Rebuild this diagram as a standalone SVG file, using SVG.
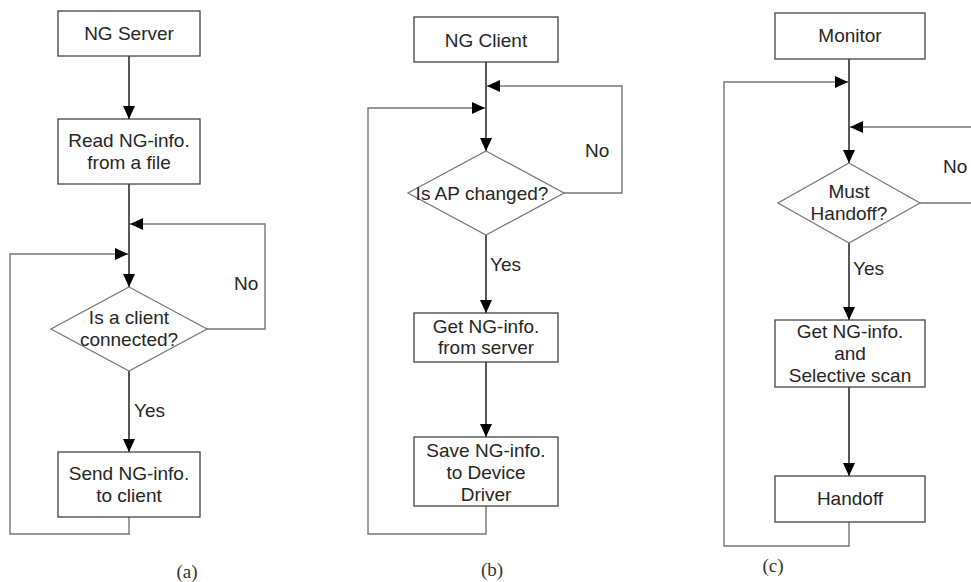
<svg xmlns="http://www.w3.org/2000/svg" width="971" height="582" viewBox="0 0 971 582">
  <style>
    .box { fill: #ffffff; stroke: #444444; stroke-width: 1.3; }
    .dia { fill: #ffffff; stroke: #7a7a7a; stroke-width: 1.3; }
    .flow { fill: none; stroke: #111111; stroke-width: 1.4; }
    .loop { fill: none; stroke: #777777; stroke-width: 1.4; }
    .t { font-family: "Liberation Sans", Arial, sans-serif; font-size: 19px; fill: #262626; text-anchor: middle; }
    .lbl { font-family: "Liberation Sans", Arial, sans-serif; font-size: 19px; fill: #262626; }
    .cap { font-family: "Liberation Serif", "Times New Roman", serif; font-size: 19px; fill: #333333; text-anchor: middle; }
  </style>
  <defs>
    <marker id="arrow" markerUnits="userSpaceOnUse" markerWidth="13" markerHeight="12" viewBox="0 0 13 12" refX="13" refY="6" orient="auto">
      <path d="M0,0 L13,6 L0,12 Z" fill="#000000"/>
    </marker>
  </defs>
  <rect width="971" height="582" fill="#ffffff"/>

  <!-- connectors -->
  <g id="connectors">
    <!-- (a) NG server -->
    <path class="flow" d="M129,56 V119" marker-end="url(#arrow)"/>
    <path class="flow" d="M129,184 V287" marker-end="url(#arrow)"/>
    <path class="loop" d="M207,329 H265 V224 H130" marker-end="url(#arrow)"/>
    <path class="flow" d="M129,371 V452" marker-end="url(#arrow)"/>
    <path class="loop" d="M129,517 V534 H10 V254 H128" marker-end="url(#arrow)"/>
    <!-- (b) NG client -->
    <path class="flow" d="M486,62 V151" marker-end="url(#arrow)"/>
    <path class="loop" d="M564,193 H622 V86 H487" marker-end="url(#arrow)"/>
    <path class="flow" d="M486,235 V313" marker-end="url(#arrow)"/>
    <path class="flow" d="M486,362 V437" marker-end="url(#arrow)"/>
    <path class="loop" d="M486,506 V534 H368 V108 H485" marker-end="url(#arrow)"/>
    <!-- (c) monitor -->
    <path class="flow" d="M849,59 V163" marker-end="url(#arrow)"/>
    <path class="loop" d="M920,203 H990 V127 H850" marker-end="url(#arrow)"/>
    <path class="flow" d="M849,243 V320" marker-end="url(#arrow)"/>
    <path class="flow" d="M849,387 V476" marker-end="url(#arrow)"/>
    <path class="loop" d="M849,522 V546 H724 V82 H848" marker-end="url(#arrow)"/>
  </g>

  <!-- (a) NG server flow -->
  <g id="a-server">
    <rect class="box" x="58" y="11" width="142" height="45"/>
    <text class="t" x="129" y="40">NG Server</text>
  </g>
  <g id="a-read">
    <rect class="box" x="58" y="119" width="142" height="65"/>
    <text class="t" x="129" y="147">Read NG-info.</text>
    <text class="t" x="129" y="169">from a file</text>
  </g>
  <g id="a-connected">
    <polygon class="dia" points="129,287 207,329 129,371 51,329"/>
    <text class="t" x="129" y="324">Is a client</text>
    <text class="t" x="129" y="346">connected?</text>
  </g>
  <g id="a-send">
    <rect class="box" x="58" y="452" width="142" height="65"/>
    <text class="t" x="129" y="480">Send NG-info.</text>
    <text class="t" x="129" y="501.5">to client</text>
  </g>
  <g id="a-labels">
    <text class="lbl" x="234" y="290">No</text>
    <text class="lbl" x="134" y="416.5">Yes</text>
    <text class="cap" x="187" y="578">(a)</text>
  </g>

  <!-- (b) NG client flow -->
  <g id="b-client">
    <rect class="box" x="414" y="17" width="144" height="45"/>
    <text class="t" x="486" y="46.5">NG Client</text>
  </g>
  <g id="b-changed">
    <polygon class="dia" points="486,151 564,193 486,235 408,193"/>
    <text class="t" x="482" y="200">Is AP changed?</text>
  </g>
  <g id="b-get">
    <rect class="box" x="414" y="313" width="144" height="49"/>
    <text class="t" x="486" y="333">Get NG-info.</text>
    <text class="t" x="486" y="354">from server</text>
  </g>
  <g id="b-save">
    <rect class="box" x="414" y="437" width="144" height="69"/>
    <text class="t" x="486" y="456.5">Save NG-info.</text>
    <text class="t" x="486" y="479">to Device</text>
    <text class="t" x="486" y="500.5">Driver</text>
  </g>
  <g id="b-labels">
    <text class="lbl" x="585" y="157">No</text>
    <text class="lbl" x="490" y="270.5">Yes</text>
    <text class="cap" x="492" y="576">(b)</text>
  </g>

  <!-- (c) monitor flow -->
  <g id="c-monitor">
    <rect class="box" x="775" y="13" width="150" height="46"/>
    <text class="t" x="850" y="42">Monitor</text>
  </g>
  <g id="c-must">
    <polygon class="dia" points="849,163 920,203 849,243 778,203"/>
    <text class="t" x="849" y="198">Must</text>
    <text class="t" x="849" y="220">Handoff?</text>
  </g>
  <g id="c-get">
    <rect class="box" x="775" y="320" width="150" height="67"/>
    <text class="t" x="850" y="338">Get NG-info.</text>
    <text class="t" x="850" y="360">and</text>
    <text class="t" x="850" y="381.5">Selective scan</text>
  </g>
  <g id="c-handoff">
    <rect class="box" x="775" y="476" width="150" height="46"/>
    <text class="t" x="850" y="505">Handoff</text>
  </g>
  <g id="c-labels">
    <text class="lbl" x="943" y="173">No</text>
    <text class="lbl" x="853" y="275">Yes</text>
    <text class="cap" x="773" y="572">(c)</text>
  </g>
</svg>
